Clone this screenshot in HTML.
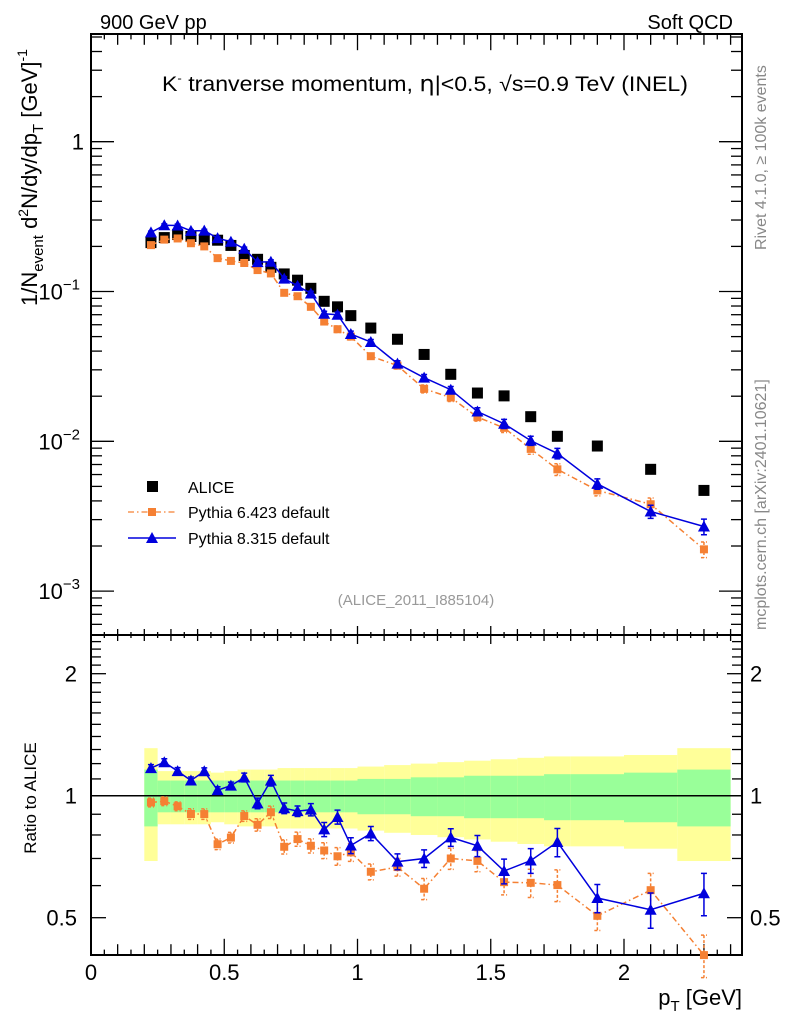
<!DOCTYPE html>
<html><head><meta charset="utf-8"><style>
html,body{margin:0;padding:0;background:#fff;}
svg{display:block;font-family:"Liberation Sans",sans-serif;}
</style></head><body>
<svg id="chart" width="786" height="1024" viewBox="0 0 786 1024" xmlns="http://www.w3.org/2000/svg">
<rect width="786" height="1024" fill="#fff"/>
<g id="bands"></g>
<g id="grid"></g>
<g id="marks"></g>
<text x="100" y="29" font-size="20">900 GeV pp</text>
<text x="733" y="29" font-size="20" text-anchor="end">Soft QCD</text>
<text x="162" y="91" font-size="21" textLength="526" lengthAdjust="spacingAndGlyphs">K<tspan dy="-9" font-size="12">-</tspan><tspan dy="9"> tranverse momentum, </tspan><tspan font-family="DejaVu Sans" font-size="22">η</tspan>|&lt;0.5, √s=0.9 TeV (INEL)</text>
<text transform="translate(37,306) rotate(-90)" font-size="22">1/N<tspan dy="6" font-size="15">event</tspan><tspan dy="-6"> d</tspan><tspan dy="-9" font-size="14">2</tspan><tspan dy="9">N/dy/dp</tspan><tspan dy="6" font-size="15">T</tspan><tspan dy="-6"> [GeV]</tspan><tspan dy="-10" font-size="14">-1</tspan></text>
<text transform="translate(36,798) rotate(-90)" font-size="17" text-anchor="middle">Ratio to ALICE</text>
<text x="742" y="1005" font-size="22" text-anchor="end">p<tspan dy="6" font-size="15">T</tspan><tspan dy="-6"> [GeV]</tspan></text>
<text transform="translate(766,250) rotate(-90)" font-size="16" fill="#888">Rivet 4.1.0, ≥ 100k events</text>
<text transform="translate(766,630) rotate(-90)" font-size="16" fill="#888">mcplots.cern.ch [arXiv:2401.10621]</text>
<text x="416" y="605" font-size="15" fill="#999" text-anchor="middle">(ALICE_2011_I885104)</text>
<g>
<rect x="147" y="481" width="11" height="11" fill="#000"/>
<text x="188" y="493" font-size="16">ALICE</text>
<line x1="128" y1="512" x2="176" y2="512" stroke="#f58033" stroke-width="1.3" stroke-dasharray="6,3,1.5,3"/>
<rect x="148" y="508" width="8" height="8" fill="#f58033"/>
<text x="188" y="518" font-size="16">Pythia 6.423 default</text>
<line x1="128" y1="538" x2="176" y2="538" stroke="#0000dd" stroke-width="1.5"/>
<polygon points="152,532 158,543 146,543" fill="#0000dd"/>
<text x="188" y="544" font-size="16">Pythia 8.315 default</text>
</g>
</svg>
<script>
const binEdges=[0.2,0.25,0.3,0.35,0.4,0.45,0.5,0.55,0.6,0.65,0.7,0.75,0.8,0.85,0.9,0.95,1.0,1.1,1.2,1.3,1.4,1.5,1.6,1.7,1.8,2.0,2.2,2.4];
const aliceVals=[0.212,0.229,0.24,0.233,0.222,0.22,0.203,0.174,0.164,0.145,0.131,0.119,0.105,0.086,0.079,0.069,0.057,0.048,0.038,0.028,0.021,0.0201,0.0146,0.0108,0.0093,0.0065,0.0047];
const py8Vals=[0.248,0.277,0.276,0.254,0.255,0.227,0.215,0.193,0.157,0.158,0.122,0.109,0.097,0.071,0.070,0.052,0.046,0.033,0.0266,0.0221,0.0158,0.0131,0.0101,0.0083,0.0052,0.0034,0.0027];
const py6Vals=[0.204,0.222,0.226,0.210,0.200,0.167,0.160,0.155,0.139,0.132,0.098,0.093,0.079,0.063,0.056,0.050,0.037,0.032,0.0224,0.0196,0.0145,0.0123,0.0089,0.0065,0.0047,0.0038,0.0019];
const py8RelErr=[0.02,0.02,0.02,0.02,0.02,0.02,0.02,0.025,0.03,0.03,0.03,0.03,0.035,0.04,0.04,0.045,0.04,0.045,0.05,0.05,0.06,0.07,0.07,0.08,0.08,0.1,0.12];
const py6RelErr=[0.025,0.025,0.025,0.03,0.03,0.03,0.03,0.03,0.035,0.035,0.04,0.04,0.04,0.045,0.05,0.05,0.045,0.05,0.06,0.06,0.06,0.07,0.08,0.09,0.08,0.1,0.12];
const totErr=[0.31,0.15,0.15,0.15,0.15,0.14,0.15,0.16,0.16,0.16,0.17,0.17,0.17,0.17,0.17,0.17,0.18,0.19,0.20,0.21,0.22,0.23,0.24,0.25,0.25,0.26,0.31];
const statErr=[0.16,0.09,0.09,0.09,0.09,0.09,0.09,0.09,0.09,0.09,0.09,0.09,0.09,0.09,0.09,0.09,0.10,0.10,0.11,0.11,0.12,0.12,0.12,0.13,0.13,0.14,0.16];
const xTickLabels=["0","0.5","1","1.5","2"];
const mainTickExps=[0,-1,-2,-3];
const ratioTickLabels=["0.5","1","2"];

const NS="http://www.w3.org/2000/svg";
const L=91,R=742,T=34,MB=635,RB=955;
const X=v=>L+v*266.5;
const Y=v=>141.7-Math.log10(v)*149.8;
const RY=v=>795.7-Math.log2(v)*122;
function mk(tag,attrs,parent){const e=document.createElementNS(NS,tag);for(const k in attrs)e.setAttribute(k,attrs[k]);parent.appendChild(e);return e;}
const G=document.getElementById('grid'),M=document.getElementById('marks'),B=document.getElementById('bands');
function ln(x1,y1,x2,y2,p,w){return mk('line',{x1,y1,x2,y2,stroke:'#000','stroke-width':w||1.3},p);}

for(let i=0;i<aliceVals.length;i++){
  const x1=X(binEdges[i]),x2=X(binEdges[i+1]);
  const y=mk('rect',{x:x1,y:RY(1+totErr[i]),width:x2-x1,height:RY(1-totErr[i])-RY(1+totErr[i]),fill:'#ffff99'},B);
  
  
  const g=mk('rect',{x:x1,y:RY(1+statErr[i]),width:x2-x1,height:RY(1-statErr[i])-RY(1+statErr[i]),fill:'#99ff99'},B);
  
  
}
mk('rect',{x:L,y:T,width:R-L,height:RB-T,fill:'none',stroke:'#000','stroke-width':2},G);
ln(L,MB,R,MB,G,2);
ln(L,RY(1),R,RY(1),G,1.5);
for(let k=0;k*0.05<=2.44;k++){
  const v=k*0.05,x=X(v);
  const len=(k%10==0)?9:(k%2==0?6:3);
  ln(x,T,x,T+len*1.8,G,1.3);ln(x,MB-len,x,MB+len,G,1.3);ln(x,RB,x,RB-len*1.8,G,1.3);
}
xTickLabels.forEach(s=>{const t=mk('text',{x:X(parseFloat(s)),y:980,'font-size':22,'text-anchor':'middle'},G);t.textContent=s;

});
for(let e=-4;e<=0;e++)for(let m=1;m<10;m++){
  const v=m*Math.pow(10,e),y=Y(v);if(y<T||y>MB)continue;
  const len=m==1?23:11;ln(L,y,L+len,y,G,1.3);ln(R,y,R-len,y,G,1.3);
}
mainTickExps.forEach(e=>{const y=Y(Math.pow(10,e));
  const t=mk('text',{x:e==0?84:80,y:y+8,'font-size':22,'text-anchor':'end'},G);
  
  
  if(e==0)t.textContent='1';else{t.textContent='10';const s=mk('tspan',{dy:-10,'font-size':15},t);s.textContent='−'+(-e);}
});
for(let v=0.4;v<=2.55;v+=0.1){const y=RY(v);if(y<MB||y>RB)continue;
  const maj=Math.abs(v-0.5)<1e-6||Math.abs(v-1)<1e-6||Math.abs(v-2)<1e-6;
  const len=maj?15:10;ln(L,y,L+len,y,G,1.3);ln(R,y,R-len,y,G,1.3);}
ratioTickLabels.forEach(s=>{const y=RY(parseFloat(s));
  const t=mk('text',{x:77,y:y+8,'font-size':22,'text-anchor':'end'},G);t.textContent=s;
  
  
  const t2=mk('text',{x:750,y:y+8,'font-size':22},G);t2.textContent=s;
  
  });

function ctr(i){return (binEdges[i]+binEdges[i+1])/2;}
function series(vals,err,color,dash,shape,ratio,name){
  const ys=i=>ratio?RY(vals[i]/aliceVals[i]):Y(vals[i]);
  const pts=vals.map((v,i)=>X(ctr(i))+','+ys(i)).join(' ');
  const pl=mk('polyline',{points:pts,fill:'none',stroke:color,'stroke-width':1.5},M);
  if(dash)pl.setAttribute('stroke-dasharray',dash);
  
  
  vals.forEach((v,i)=>{
    const x=X(ctr(i));const r=ratio?v/aliceVals[i]:v;const f=ratio?RY:Y;
    const y1=f(r*(1+err[i])),y2=f(r*(1-err[i]));
    const eb=mk('path',{d:`M${x},${y1}V${y2}M${x-3},${y1}H${x+3}M${x-3},${y2}H${x+3}`,stroke:color,'stroke-width':1.5,fill:'none'},M);
    if(dash)eb.setAttribute('stroke-dasharray','3,2');
    
    
    const y=f(r);let m;
    if(shape=='tri')m=mk('polygon',{points:`${x},${y-6} ${x+6},${y+5} ${x-6},${y+5}`,fill:color},M);
    else m=mk('rect',{x:x-4,y:y-4,width:8,height:8,fill:color},M);
    
    
  });
}
aliceVals.forEach((v,i)=>{const x=X(ctr(i)),y=Y(v);
  const r=mk('rect',{x:x-5.5,y:y-5.5,width:11,height:11,fill:'#000'},M);
  
  });
series(py6Vals,py6RelErr,'#f58033','6,3,1.5,3','sq',false,'pythia6');
series(py8Vals,py8RelErr,'#0000dd',null,'tri',false,'pythia8');
series(py6Vals,py6RelErr,'#f58033','6,3,1.5,3','sq',true,'pythia6-ratio');
series(py8Vals,py8RelErr,'#0000dd',null,'tri',true,'pythia8-ratio');
</script>
</body></html>
